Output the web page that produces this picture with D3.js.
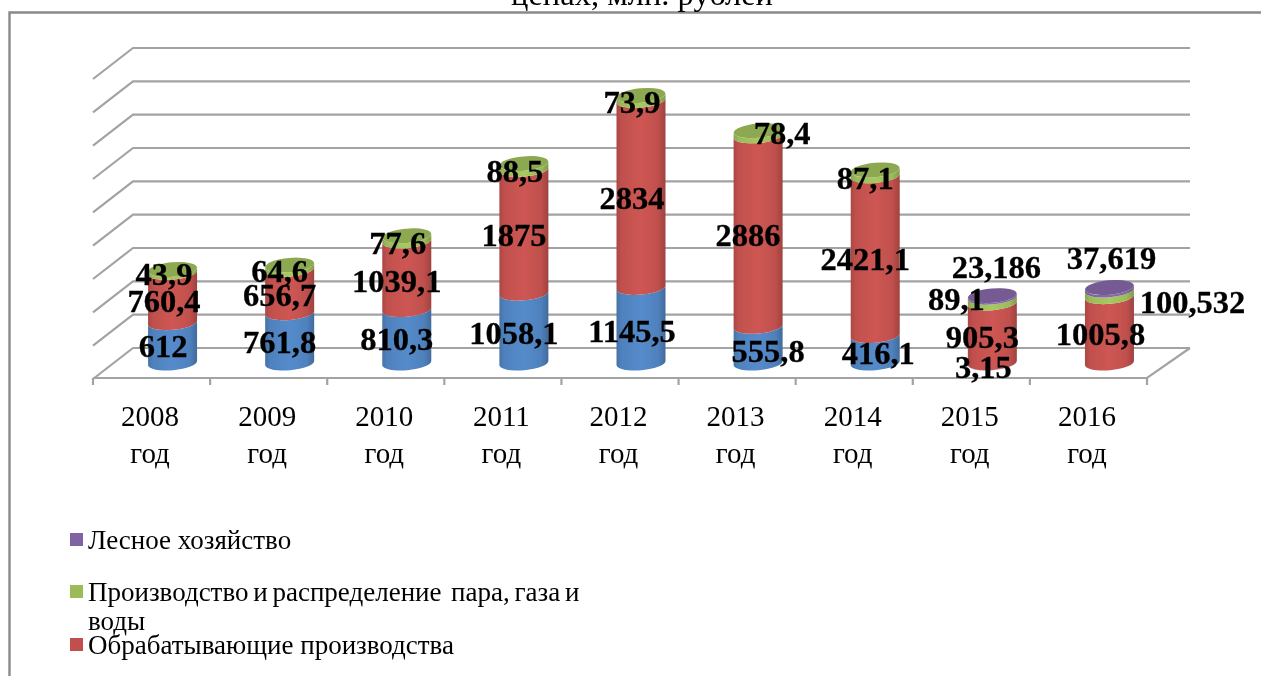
<!DOCTYPE html>
<html><head><meta charset="utf-8">
<script src="https://cdn.jsdelivr.net/npm/d3@7"></script>
<style>html,body{margin:0;padding:0;background:#fff;overflow:hidden}svg{display:block}text{font-family:"Liberation Serif",serif;fill:#000}</style>
</head><body><svg id="c" width="1261" height="676"></svg>
<script>
const categories=["2008","2009","2010","2011","2012","2013","2014","2015","2016"];
const blueValues=[612,761.8,810.3,1058.1,1145.5,555.8,416.1,3.15,0];
const redValues=[760.4,656.7,1039.1,1875,2834,2886,2421.1,905.3,1005.8];
const greenValues=[43.9,64.6,77.6,88.5,73.9,78.4,87.1,89.1,100.532];
const purpleValues=[0,0,0,0,0,0,0,23.186,37.619];
const blueLabels=["612","761,8","810,3","1058,1","1145,5","555,8","416,1","3,15",""];
const redLabels=["760,4","656,7","1039,1","1875","2834","2886","2421,1","905,3","1005,8"];
const greenLabels=["43,9","64,6","77,6","88,5","73,9","78,4","87,1","89,1","100,532"];
const purpleLabels=["","","","","","","","23,186","37,619"];
const gridTicks=[0,500,1000,1500,2000,2500,3000,3500,4000,4500];
const legendNames=["Лесное хозяйство",["Производство и распределение  пара, газа и","воды"],"Обрабатывающие производства"];
// hand-placed label anchors in the reference (centre x offset from bar centre, baseline y)
const bluePlace=[[-9.5,357],[-10,353],[-10,350],[-10,344],[-9,342],[10,362],[3,364],[-9,378]];
const redPlace=[[-8.5,312],[-10,306],[-10,292],[-10,246],[-9,209],[-10,246],[-10,270],[-10,348],[-9,345]];
const greenPlace=[[-8.5,285],[-10,282],[-9,254],[-9,182],[-9,113],[24,144],[-10,189],[-36,310],[83,313]];
const purplePlace=[[],[],[],[],[],[],[],[4,278],[2,269]];

const svg=d3.select("#c");
const defs=svg.append("defs");
const colours={blue:"#4f81bd",red:"#c0504d",green:"#9bbb59",purple:"#8064a2"};
function shade(name,c){
  const g=defs.append("linearGradient").attr("id","g-"+name);
  const base=d3.color(c);
  [[0,base.darker(.35)],[.1,base],[.5,base.brighter(.2)],[.85,base],[1,base.darker(.55)]]
   .forEach(([o,k])=>g.append("stop").attr("offset",o).attr("stop-color",k));
}
Object.entries(colours).forEach(([k,v])=>shade(k,v));
defs.append("filter").attr("id","soft").append("feGaussianBlur").attr("stdDeviation",.5);
const root=svg.append("g").attr("filter","url(#soft)");

// frame and clipped title
root.append("path").attr("d","M9.5 680V12.5H1265").attr("fill","none").attr("stroke","#8a8a8a").attr("stroke-width",2.4);
root.append("text").attr("x",642).attr("y",5).attr("text-anchor","middle").attr("font-size",32.5).text("ценах, млн. рублей");

const x=d3.scaleBand().domain(categories).range([93,1147]);
const yGrid=d3.scaleLinear().domain([0,4500]).range([348,48]);
const yBar=d3.scaleLinear().domain([0,4500]).range([363,66]);
const backLeft=133,backRight=1190,depthY=-31;
const grid="#a3a3a3";
const gl=root.append("g").attr("fill","none").attr("stroke",grid).attr("stroke-width",2.2);
gl.selectAll("path.g").data(gridTicks).join("path").attr("class","g")
 .attr("d",t=>`M93 ${yGrid(t)-depthY}L${backLeft} ${yGrid(t)}H${backRight}`);
gl.append("path").attr("d",`M93 378H1147L${backRight} ${yGrid(0)}`);
gl.selectAll("path.t").data(d3.range(10)).join("path").attr("class","t")
 .attr("d",i=>`M${93+i*x.bandwidth()} 378v7`);

// cylinders
const rx=24.5,ry=7.2,slant=-0.09;
const barCentre=c=>x(c)+x.bandwidth()/2+21;
function ellipsePoint(cx,cy,a){const ex=rx*Math.cos(a),ey=ry*Math.sin(a);return [cx+ex,cy+ey+slant*ex];}
function segPath(cx,y0,y1){
  const l1=ellipsePoint(cx,y1,Math.PI),r1=ellipsePoint(cx,y1,0),l0=ellipsePoint(cx,y0,Math.PI),r0=ellipsePoint(cx,y0,0);
  const ang=Math.atan(slant)*180/Math.PI;
  return `M${l1}A${rx} ${ry} ${ang} 0 0 ${r1}L${r0}A${rx} ${ry} ${ang} 0 1 ${l0}Z`;
}
const series=[["blue",blueValues],["red",redValues],["green",greenValues],["purple",purpleValues]];
const bars=root.append("g");
categories.forEach((c,i)=>{
  const cx=barCentre(c);
  let acc=0,lastName=null,top=0;
  series.forEach(([name,vals])=>{
    const v=vals[i];
    if(!v) return;
    const y0=yBar(acc),y1=yBar(acc+v);
    bars.append("path").attr("d",segPath(cx,y0,y1)).attr("fill",`url(#g-${name})`);
    acc+=v;lastName=name;top=y1;
  });
  bars.append("ellipse").attr("cx",cx).attr("cy",top).attr("rx",rx).attr("ry",ry)
   .attr("transform",`rotate(${Math.atan(slant)*180/Math.PI} ${cx} ${top})`)
   .attr("fill",d3.color(colours[lastName]).darker(.28));
});

// data labels
const labels=root.append("g").attr("font-size",32.5).attr("font-weight",700).attr("text-anchor","middle")
 .style("stroke","#000").style("stroke-width",.3);
[[blueLabels,bluePlace],[redLabels,redPlace],[greenLabels,greenPlace],[purpleLabels,purplePlace]].forEach(([txt,pos])=>{
  txt.forEach((s,i)=>{
    if(!s||!pos[i]||!pos[i].length) return;
    labels.append("text").attr("x",barCentre(categories[i])+pos[i][0]).attr("y",pos[i][1]).text(s);
  });
});

// category axis labels
const cat=root.append("g").attr("font-size",29).attr("text-anchor","middle");
categories.forEach(c=>{
  const m=x(c)+x.bandwidth()/2-1.5;
  cat.append("text").attr("x",m).attr("y",426).text(c);
  cat.append("text").attr("x",m).attr("y",463).text("год");
});

// legend
const lg=root.append("g").attr("font-size",27);
const legendY=[549,601,654],legendCol=[colours.purple,colours.green,colours.red];
legendNames.forEach((n,i)=>{
  lg.append("rect").attr("x",70).attr("y",legendY[i]-16).attr("width",13).attr("height",13).attr("fill",legendCol[i]);
  const lines=Array.isArray(n)?n:[n];
  lines.forEach((s,j)=>lg.append("text").attr("x",88).attr("y",legendY[i]+j*29)
    .style("white-space","pre").style("word-spacing",lines.length>1?"-2px":null).text(s));
});
</script></body></html>
